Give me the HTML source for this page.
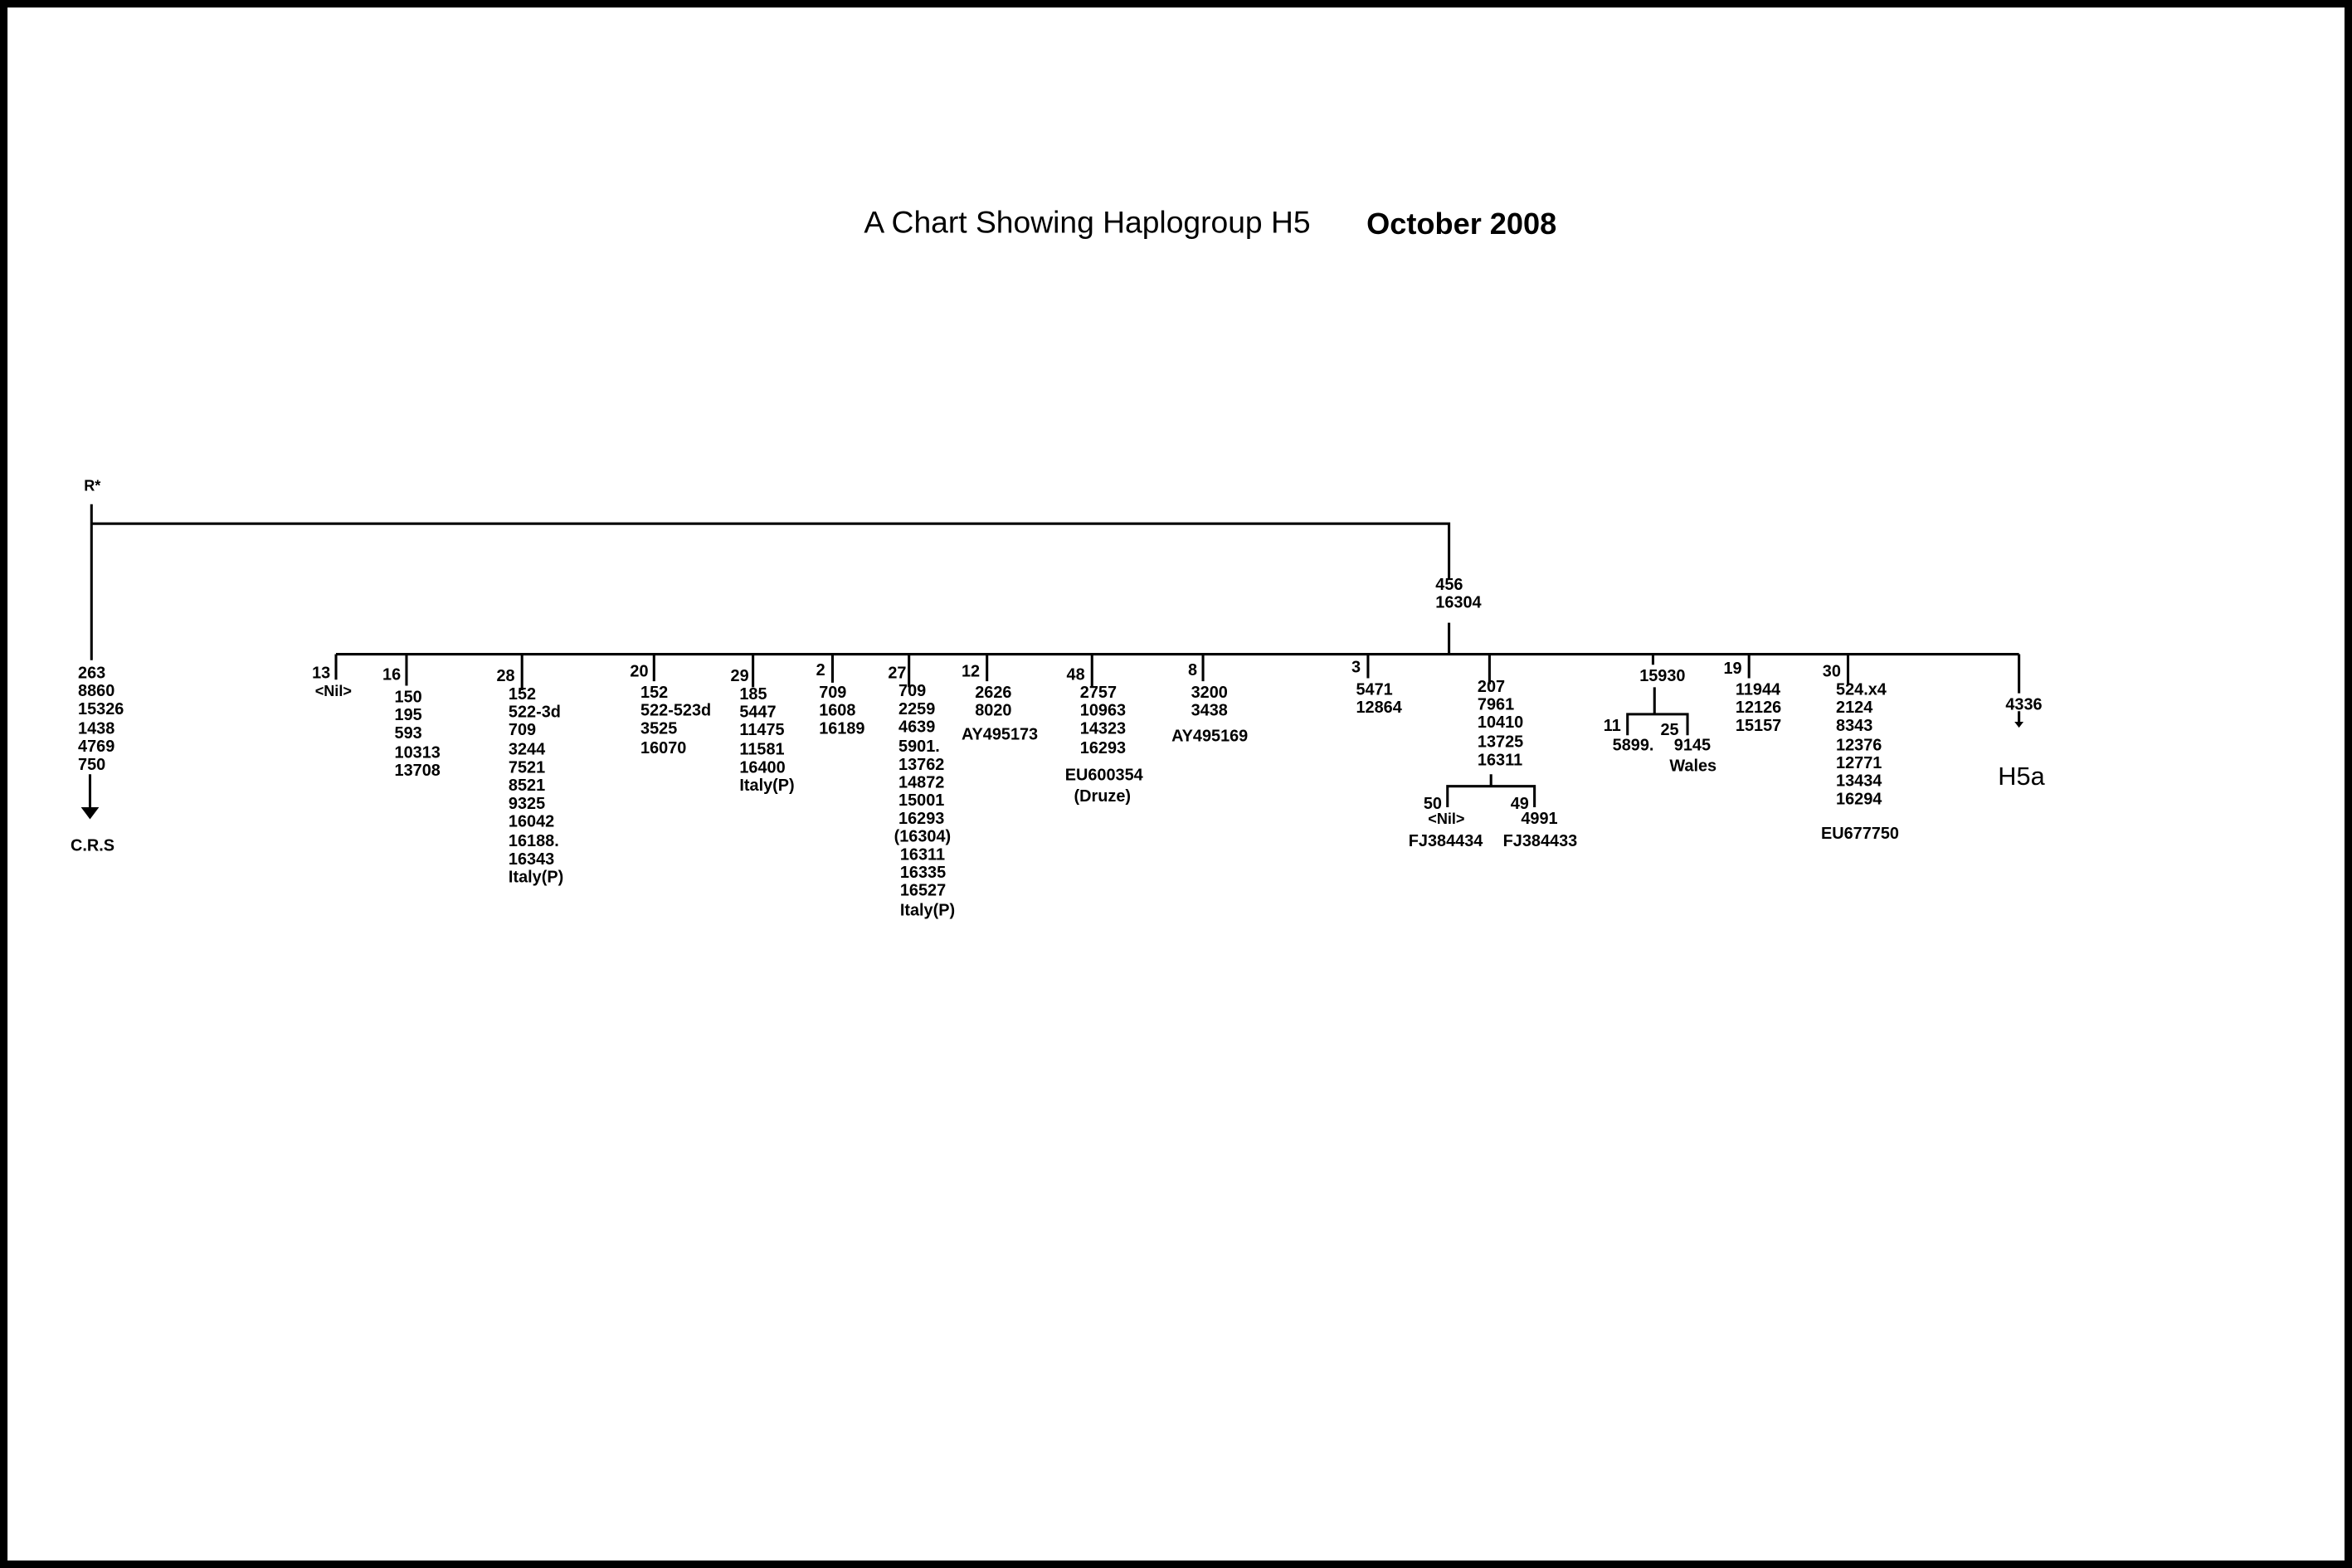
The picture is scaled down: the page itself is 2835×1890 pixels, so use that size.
<!DOCTYPE html>
<html><head><meta charset="utf-8"><style>
html,body{margin:0;padding:0;background:#fff;}
body{width:2835px;height:1890px;overflow:hidden;position:relative;}
#c{position:absolute;left:0;top:0;width:1568px;height:1045px;transform:scale(1.80804,1.80861);transform-origin:0 0;font-family:"Liberation Sans",Arial,sans-serif;color:#000;}
#frame{position:absolute;left:0;top:0;width:1568px;height:1045px;border:5px solid #000;box-sizing:border-box;}
.t{position:absolute;font-size:11px;font-weight:bold;line-height:12.2px;white-space:pre;}
svg{position:absolute;left:0;top:0;}
</style></head><body><div id="c">
<div id="frame"></div>
<svg width="1568" height="1045" viewBox="0 0 1568 1045">
<g stroke="#000" stroke-width="1.7" fill="none">
<path d="M61 336V440M61 349H966V386M966 415V436M224 436H1346"/>
<path d="M224 436V453M271 436V457M348 436V460M436 436V454M502 436V458M555 436V455M606 436V458M658 436V454M728 436V458M802 436V454M912 436V452M993 436V456M1102 436V443M1166 436V452M1232 436V456M1346 436V462"/>
<path d="M994 516V524M965 538V524H1023V538"/>
<path d="M1103 458V476M1085 490V476H1125V490"/>
<path d="M60 516V538M1346 474V482"/>
</g>
<path d="M54 538H66L60 546Z" fill="#000"/>
<path d="M1343 481H1349L1346 485Z" fill="#000"/>
</svg>
<div class="t" style="left:576px;top:137px;font-size:20.6px;line-height:24px;font-weight:normal">A Chart Showing Haplogroup H5</div>
<div class="t" style="left:911px;top:138px;font-size:20px;line-height:24px">October 2008</div>
<div class="t" style="left:56px;top:319px;font-size:10px">R*</div>
<div class="t" style="left:957px;top:384px">456
16304</div>
<div class="t" style="left:52px;top:443px">263
8860
15326
1438
4769
750</div>
<div class="t" style="left:47px;top:558px">C.R.S</div>
<div class="t" style="left:208px;top:443px">13</div>
<div class="t" style="left:210px;top:456px;font-size:10px">&lt;Nil&gt;</div>
<div class="t" style="left:255px;top:444px">16</div>
<div class="t" style="left:263px;top:459px">150
195
593
10313
13708</div>
<div class="t" style="left:331px;top:445px">28</div>
<div class="t" style="left:339px;top:457px">152
522-3d
709
3244
7521
8521
9325
16042
16188.
16343
Italy(P)</div>
<div class="t" style="left:420px;top:442px">20</div>
<div class="t" style="left:427px;top:456px">152
522-523d
3525
16070</div>
<div class="t" style="left:487px;top:445px">29</div>
<div class="t" style="left:493px;top:457px">185
5447
11475
11581
16400
Italy(P)</div>
<div class="t" style="left:544px;top:441px">2</div>
<div class="t" style="left:546px;top:456px">709
1608
16189</div>
<div class="t" style="left:592px;top:443px">27</div>
<div class="t" style="left:599px;top:455px">709
2259
4639
5901.
13762
14872
15001
16293</div>
<div class="t" style="left:596px;top:552px">(16304)</div>
<div class="t" style="left:600px;top:564px">16311
16335
16527
Italy(P)</div>
<div class="t" style="left:641px;top:442px">12</div>
<div class="t" style="left:650px;top:456px">2626
8020</div>
<div class="t" style="left:641px;top:484px">AY495173</div>
<div class="t" style="left:711px;top:444px">48</div>
<div class="t" style="left:720px;top:456px">2757
10963
14323
16293</div>
<div class="t" style="left:710px;top:511px">EU600354</div>
<div class="t" style="left:716px;top:525px">(Druze)</div>
<div class="t" style="left:792px;top:441px">8</div>
<div class="t" style="left:794px;top:456px">3200
3438</div>
<div class="t" style="left:781px;top:485px">AY495169</div>
<div class="t" style="left:901px;top:439px">3</div>
<div class="t" style="left:904px;top:454px">5471
12864</div>
<div class="t" style="left:985px;top:452px">207
7961
10410
13725
16311</div>
<div class="t" style="left:949px;top:530px">50</div>
<div class="t" style="left:952px;top:541px;font-size:10px">&lt;Nil&gt;</div>
<div class="t" style="left:939px;top:555px">FJ384434</div>
<div class="t" style="left:1007px;top:530px">49</div>
<div class="t" style="left:1014px;top:540px">4991</div>
<div class="t" style="left:1002px;top:555px">FJ384433</div>
<div class="t" style="left:1093px;top:445px">15930</div>
<div class="t" style="left:1069px;top:478px">11</div>
<div class="t" style="left:1075px;top:491px">5899.</div>
<div class="t" style="left:1107px;top:481px">25</div>
<div class="t" style="left:1116px;top:491px">9145</div>
<div class="t" style="left:1113px;top:505px">Wales</div>
<div class="t" style="left:1149px;top:440px">19</div>
<div class="t" style="left:1157px;top:454px">11944
12126
15157</div>
<div class="t" style="left:1215px;top:442px">30</div>
<div class="t" style="left:1224px;top:454px">524.x4
2124
8343
12376
12771
13434
16294</div>
<div class="t" style="left:1214px;top:550px">EU677750</div>
<div class="t" style="left:1337px;top:464px">4336</div>
<div class="t" style="left:1332px;top:508px;font-size:17px;font-weight:normal;line-height:20px">H5a</div>
</div></body></html>
